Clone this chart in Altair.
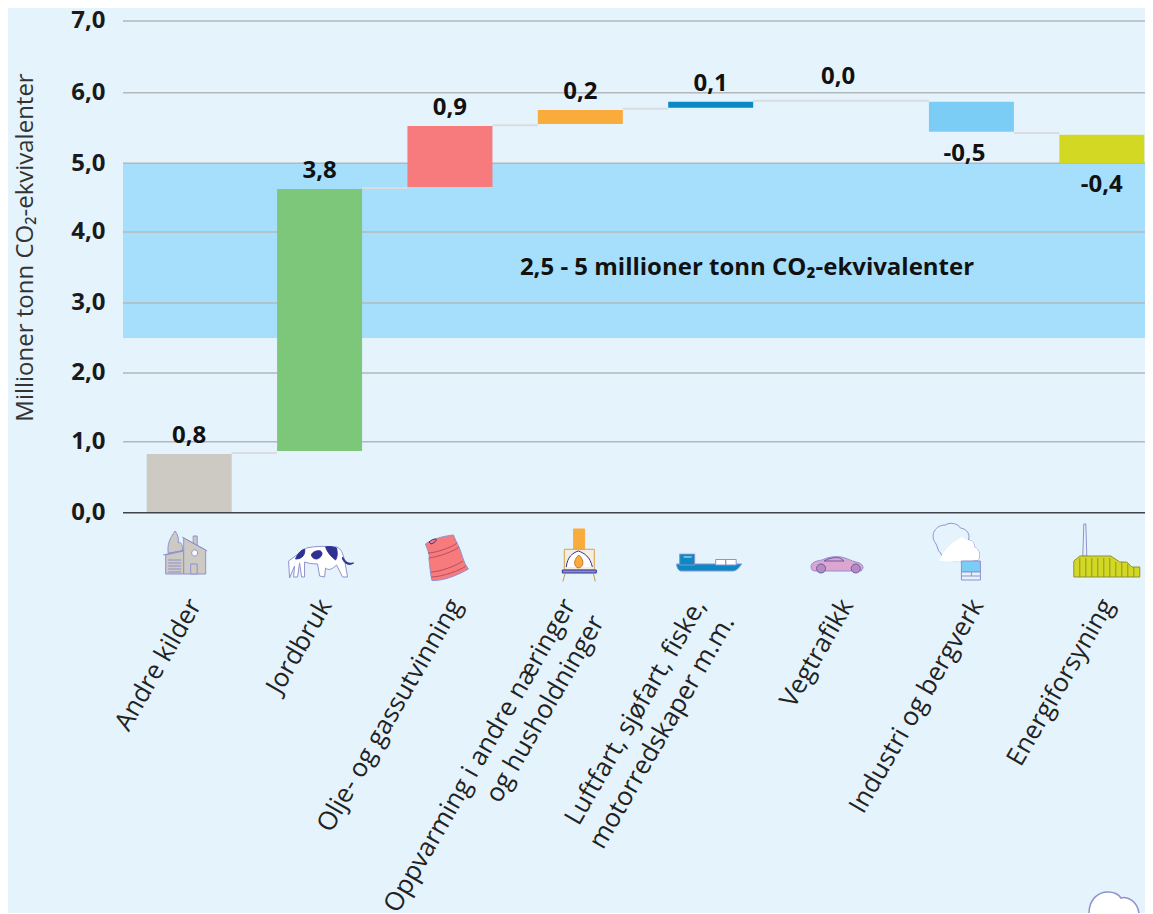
import altair as alt
import pandas as pd

CATS = ["Andre kilder", "Jordbruk", "Olje- og gassutvinning",
        "Oppvarming i andre næringer|og husholdninger",
        "Luftfart, sjøfart, fiske,|motorredskaper m.m.", "Vegtrafikk",
        "Industri og bergverk", "Energiforsyning"]
BAR_LOW = [0.0, 0.869, 4.655, 5.557, 5.787, 5.887, 5.448, 5.0]
BAR_HIGH = [0.827, 4.626, 5.528, 5.756, 5.873, 5.887, 5.873, 5.405]
BAR_COLORS = ["#cdc9c3", "#7dc77a", "#f77a7c", "#f9ab3c", "#0a8ac4", "#dda6cf", "#7bcdf5", "#d3d922"]
LABELS = ["0,8", "3,8", "0,9", "0,2", "0,1", "0,0", "-0,5", "-0,4"]
LABEL_AT = [0.827, 4.626, 5.528, 5.756, 5.873, 5.97, 5.448, 5.0]
CONN_FROM = [0, 1, 2, 3, 4, 6]
CONN_TO = [1, 2, 3, 4, 6, 7]
CONN_VALUE = [0.841, 4.64, 5.54, 5.773, 5.887, 5.43]
TICKS = [0, 1, 2, 3, 4, 5, 6, 7]
BAND_LOW, BAND_HIGH = 2.5, 5.0
BAND_TEXT = "2,5 - 5 millioner tonn CO₂-ekvivalenter"
Y_TITLE = "Millioner tonn CO₂-ekvivalenter"

BG = "#e5f3fc"
FONT = "Open Sans"
OUT = "#9092cf"
DARK = "#2f3192"


def circ(x, y, r):
    return f"M{x-r},{y} A{r},{r} 0 1,1 {x+r},{y} A{r},{r} 0 1,1 {x-r},{y} Z"


# Pictogram drawn under each category: (category index, path in px round the anchor, fill, stroke)
ICONS = [
    (0, "M-14,-22 C-20,-14 -22,-8 -21,0 L-7,-2 C-6,-9 -9,-12 -11,-10 C-10,-15 -12,-19 -14,-22 Z", "#cdc9c3", OUT),
    (0, "M4,-17 L8,-17 L8,-5 L4,-5 Z", "#cdc9c3", OUT),
    (0, "M-23.5,2 L-5.5,-2 L-5.5,21 L-23.5,21 Z", "#cdc9c3", OUT),
    (0, "M-5.5,-15 L16.5,-3 L16.5,21 L-5.5,21 Z", "#cdc9c3", OUT),
    (0, "M-7,-16 L18,-2 M-26,2 L-5,-3", "transparent", OUT),
    (0, "M-21,7 L-8,7 M-21,10 L-8,10 M-21,13 L-8,13 M-21,16 L-8,16 M-21,19 L-8,19", "transparent", OUT),
    (0, circ(5.5, 0, 3), "#ffffff", OUT),
    (0, "M1.5,11 L8,11 L8,21 L1.5,21 Z", "#cdc9c3", OUT),
    (1, "M-31,8 L-20,0 L-13,-5 C-5,-7 8,-7 17,-6 C22,-4 23,0 25,7 L28,24 L23,24 L17,12 C13,16 9,18 6,15 L5,24 L0,23 L-2,11 C-8,11 -12,10 -15,9 L-15,24 L-18,24 L-20,10 L-22,24 L-26,24 L-25,13 L-30,25 Z",
     "#ffffff", OUT),
    (1, "M-24,6 C-22,0 -18,-3 -15,-4 C-14,1 -17,6 -24,6 Z", DARK, DARK),
    (1, "M-8,2 C-8,-1 -2,-3 1,-2 C4,0 2,5 -3,6 C-6,6 -8,4 -8,2 Z", DARK, DARK),
    (1, "M6,-6 C10,-7 14,-6 17,-5 C18,0 18,4 16,7 C12,4 8,0 6,-6 Z", DARK, DARK),
    (1, "M23,4 C26,9 28,11 34,10 C30,13 25,11 23,6 Z", DARK, DARK),
    (2, "M-24.5,-9 C-22,-2 -20,2 -21,6 C-20,12 -20,20 -18,27.5 C-6,28 8,22 18.5,16 C13,9 12,0 9,-6 C7,-10 5,-14 3.5,-18 C-6,-17 -18,-14 -24.5,-9 Z", "#f77a7c", OUT),
    (2, "M-21,-11 C-19,-13 -16,-14 -14,-14 C-13,-12 -16,-10 -19,-9 Z", "#f77a7c", DARK),
    (2, "M-22,0 C-14,0 3,-6 7,-10 M-21,5 C-12,4 5,-2 9,-6 M-19,19 C-10,19 8,12 13,8 M-18.5,24 C-8,24 11,17 16,13", "transparent", "#b5505f"),
    (3, "M-6.7,-24 L4.3,-24 L4.3,-3.7 L-6.7,-3.7 Z", "#f9ab3c", "#f9ab3c"),
    (3, "M-16,-3.7 L14,-3.7 L14,17 L-16,17 Z", "#f3eee0", "#d8a24a"),
    (3, "M-14,14 C-13,4 -8,0 -2,-2 C4,0 10,4 12,14", "#ffffff", DARK),
    (3, "M-1.5,2 C-8,8 -6,14 -2,15 C3,14 5,8 -1.5,2 Z", "#f9ab3c", "#c9772a"),
    (3, "M-18,17 L16,17 L16,20 L-18,20 Z", "#8a8fd0", DARK),
    (3, "M-15,20 L-17.5,28.5 M13,20 L15,28.5", "transparent", "#c9973f"),
    (4, "M-34,11 L31,11 C28,15 26,18 22,18 L-30,18 C-33,17 -34,14 -34,11 Z", "#0a8ac4", OUT),
    (4, "M-31,1 L-16,1 L-16,12 L-31,12 Z", "#0a8ac4", OUT),
    (4, "M-32.5,0 L-15,0 M-27,4 L-19,4", "transparent", "#dfe9f7"),
    (4, "M5,6.5 L15,6.5 L15,12 L5,12 Z M15,6.5 L25.5,6.5 L25.5,12 L15,12 Z", "#ffffff", OUT),
    (5, "M-30,14 C-30,9 -25,8 -19,7 C-13,4 -6,3 0,4 C6,5 10,8 15,9 C20,10 22,12 22,15 L20,18 L-26,18 C-29,18 -30,16 -30,14 Z",
     "#dda6cf", OUT),
    (5, "M-17,8 C-12,5 -6,4 -1,5 L3,8 Z", "#dda6cf", "#6d5aa8"),
    (5, circ(-20, 15.5, 4.5), "#b68ac3", "#6d5aa8"),
    (5, circ(14.7, 15.5, 4.5), "#b68ac3", "#6d5aa8"),
    (6, "M-8,9 C-18,8 -28,8 -31,0 C-34,-2 -34,-8 -36,-10 C-42,-18 -36,-28 -26,-28 C-22,-31 -14,-30 -11,-25 C-4,-24 -1,-18 -3,-13 C2,-12 3,-9 3,-6 C8,-4 9,2 7,7 Z",
     BG, OUT),
    (6, "M-32,8 C-28,-4 -18,-12 -9,-16 C-6,-14 -4,-12 -3,-13 C2,-12 3,-9 3,-6 C8,-4 9,2 7,7 L-8,9 Z", "#ffffff", "transparent"),
    (6, "M-10,8 L9,8 L9,19 L-10,19 Z", "#7bcdf5", OUT),
    (6, "M-10,19 L9,19 L9,27 L-10,27 Z M-10,23 L9,23 M0,19 L0,23", BG, OUT),
    (7, "M-19,3 L-18,-29 L-16,-29 L-15,3 Z", BG, OUT),
    (7, "M-28,24 L-28,8 L-22,3 L9,3 L18,9 L25,9 L30,14 L38,14 L38,24 Z", "#d3d922", "#8d9138"),
    (7, "M-22,5 L-22,24 M-16,5 L-16,24 M-10,5 L-10,24 M-4,5 L-4,24 M2,5 L2,24 M8,5 L8,24 M14,9 L14,24 M20,9 L20,24 M26,11 L26,24 M32,14 L32,24",
     "transparent", "#8d9138"),
]
CLOUD = "M-25,15 C-25,0 -16,-7 -6,-7 C0,-7 5,-4 7,-1 C13,-3 24,2 25,15 L25,30 L-25,30 Z"

bars = pd.DataFrame({"cat": CATS, "low": BAR_LOW, "high": BAR_HIGH, "color": BAR_COLORS,
                     "label": LABELS, "at": LABEL_AT})
conns = pd.DataFrame({"a": [CATS[i] for i in CONN_FROM], "b": [CATS[i] for i in CONN_TO], "v": CONN_VALUE})
ticks = pd.DataFrame({"v": TICKS})
band = pd.DataFrame({"low": [BAND_LOW], "high": [BAND_HIGH], "t": [BAND_TEXT]})
icons = pd.DataFrame([{"cat": CATS[c], "path": p, "fill": f, "stroke": s} for c, p, f, s in ICONS])
cloud = pd.DataFrame({"path": [CLOUD]})

x_scale = alt.Scale(domain=CATS, range=[1, 1044], paddingInner=0.348, paddingOuter=0.174)
x_axis = alt.Axis(title=None, ticks=False, domain=False,
                  labelAngle=-60, labelAlign="right", labelBaseline="middle", labelFont=FONT,
                  labelFontSize=25.8, labelColor="#222222", labelPadding=88,
                  labelOffset={"condition": {"test": "indexof(datum.label, '|') >= 0", "value": -11}, "value": 6},
                  labelLimit=0, labelOverlap=False, labelExpr="split(datum.label, '|')",
                  labelLineHeight=33, grid=False)
y_scale = alt.Scale(domain=TICKS, range=[491.7, 420.7, 352, 282, 211, 142.3, 71.7, 0], type="linear")
y_axis = alt.Axis(title=Y_TITLE, values=TICKS, grid=False, ticks=False, domain=False,
                  labelFont=FONT, labelFontSize=24, labelFontWeight="bold", labelColor="#1a1a1a",
                  labelPadding=18, labelExpr="replace(format(datum.value, '.1f'), '.', ',')",
                  titleFont=FONT, titleFontSize=24, titleFontWeight="normal", titleColor="#333333",
                  titleX=-86, titleY=226)


def X(field):
    return alt.X(field, type="nominal", sort=CATS, scale=x_scale, axis=x_axis)


def Y(field):
    return alt.Y(field, type="quantitative", scale=y_scale, axis=y_axis)


def value_text(keep, field, dx, dy):
    return alt.Chart(bars[bars["label"].isin(keep)]).mark_text(
        font=FONT, fontSize=24, fontWeight="bold", color="#111111", dx=dx, dy=dy).encode(
        x=X("cat"), y=Y(field), text="label:N")


band_layer = alt.Chart(band).mark_rect(color="#a6dffb").encode(
    y=Y("low"), y2="high", x=alt.value(0), x2=alt.value(1030))
grid_layer = alt.Chart(ticks).transform_filter("datum.v > 0").mark_rule(color="#b3b8bb", strokeWidth=1.5).encode(
    y=Y("v"), x=alt.value(0), x2=alt.value(1030))
conn_layer = alt.Chart(conns).mark_rule(color="#d9dde1", strokeWidth=2).encode(
    x=alt.X("a", type="nominal", sort=CATS, scale=x_scale, axis=x_axis, bandPosition=1),
    x2=alt.X2("b", bandPosition=0),
    y=Y("v"))
bar_layer = alt.Chart(bars).mark_bar().encode(
    x=X("cat"), y=Y("low"), y2="high", color=alt.Color("color:N", scale=None))
zero_layer = alt.Chart(ticks).transform_filter("datum.v == 0").mark_rule(color="#3f4448", strokeWidth=1.5).encode(
    y=Y("v"), x=alt.value(0), x2=alt.value(1030))
text_layers = [
    value_text(LABELS[:5], "at", 0, -18),
    value_text(["0,0"], "at", -3, -18),
    value_text(["-0,5"], "low", -7, 22),
    value_text(["-0,4"], "low", 0, 22),
]
band_text = alt.Chart(band).mark_text(
    font=FONT, fontSize=24, fontWeight="bold", color="#111111").encode(
    x=alt.value(624), y=alt.value(247), text="t:N")
icon_layer = alt.Chart(icons).mark_point(size=4, filled=True, opacity=1, strokeWidth=1).encode(
    x=X("cat"), y=alt.value(532),
    shape=alt.Shape("path:N", scale=None),
    fill=alt.Fill("fill:N", scale=None), stroke=alt.Stroke("stroke:N", scale=None))
cloud_layer = alt.Chart(cloud).mark_point(size=4, filled=True, opacity=1, strokeWidth=1.5, fill="#ffffff", stroke=OUT).encode(
    x=alt.value(991), y=alt.value(878), shape=alt.Shape("path:N", scale=None))

chart = alt.layer(band_layer, grid_layer, conn_layer, bar_layer, zero_layer, *text_layers, band_text,
                  icon_layer, cloud_layer).properties(
    width=1022, height=491.7, autosize="none", background=BG,
    padding={"left": 115, "top": 13, "right": 0, "bottom": 400},
).configure_view(stroke=None)

chart.save("out.html", embed_options={"renderer": "svg", "actions": False})
